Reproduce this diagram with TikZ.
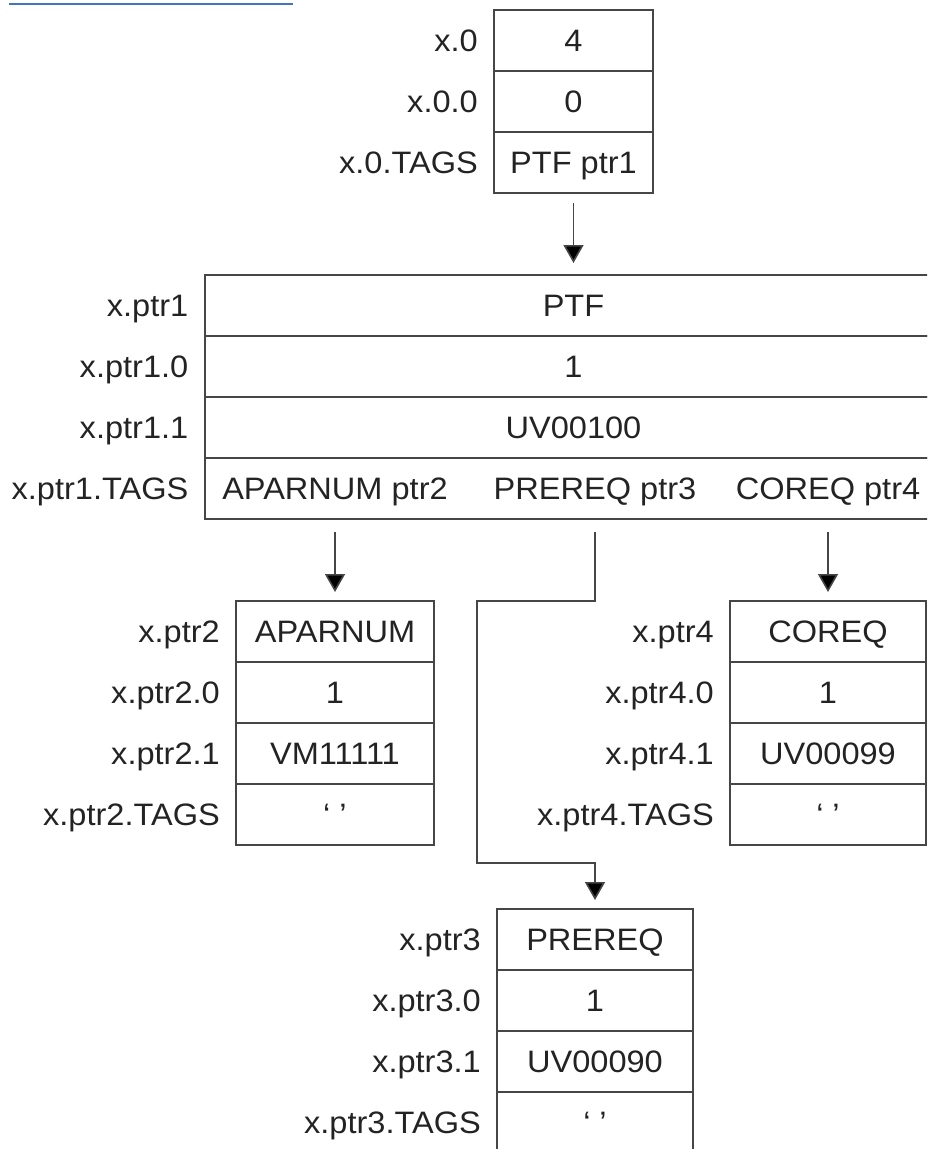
\documentclass[tikz,border=0pt]{standalone}
\usepackage{fontspec}
\setmainfont[FakeStretch=1.05]{Liberation Sans}
\usetikzlibrary{positioning,arrows.meta}
\definecolor{inkgray}{RGB}{35,35,35}
\definecolor{rulegray}{RGB}{70,70,70}
\definecolor{linkblue}{RGB}{68,114,196}
\tikzset{
  cell/.style={draw=rulegray, line width=2pt, inner sep=0pt, outer sep=0pt,
    minimum height=61pt, text height=22pt, text depth=0pt},
  lbl/.style={inner sep=0pt, text height=22pt, text depth=0pt},
  ptr/.style={-{Triangle[length=18pt,width=20pt,fill=black]}, draw=rulegray, line width=1.6pt},
}
\begin{document}
\begin{tikzpicture}[x=1pt, y=1pt, font=\fontsize{31}{38}\selectfont, text=inkgray]
  \useasboundingbox (0,0) rectangle (927,-1149);
  \clip (0,0) rectangle (927,-1149);
  \draw[linkblue, line width=2pt] (9,-4) -- (293,-4);

  % record x.0
  \node[cell, minimum width=159pt] (t0) at (573.5,-40.5) {4};
  \node[cell, minimum width=159pt, below=0pt of t0] (t1) {0};
  \node[cell, minimum width=159pt, below=0pt of t1] (t2) {PTF ptr1};
  \node[lbl, left=16pt of t0] (lt0) {x.0};
  \node[lbl, left=16pt of t1] (lt1) {x.0.0};
  \node[lbl, left=16pt of t2] (lt2) {x.0.TAGS};

  % record x.ptr1
  \node[cell, minimum width=738pt] (p0) at (573.5,-305.5) {PTF};
  \node[cell, minimum width=738pt, below=0pt of p0] (p1) {1};
  \node[cell, minimum width=738pt, below=0pt of p1] (p2) {UV00100};
  \node[cell, minimum width=738pt, below=0pt of p2] (p3) {};
  \node[lbl, left=16pt of p0] (lp0) {x.ptr1};
  \node[lbl, left=16pt of p1] (lp1) {x.ptr1.0};
  \node[lbl, left=16pt of p2] (lp2) {x.ptr1.1};
  \node[lbl, left=16pt of p3] (lp3) {x.ptr1.TAGS};

  % record x.ptr2
  \node[cell, minimum width=198pt] (q0) at (335,-631.5) {APARNUM};
  \node[cell, minimum width=198pt, below=0pt of q0] (q1) {1};
  \node[cell, minimum width=198pt, below=0pt of q1] (q2) {VM11111};
  \node[cell, minimum width=198pt, below=0pt of q2] (q3) {‘ ’};
  \node[lbl, left=16pt of q0] (lq0) {x.ptr2};
  \node[lbl, left=16pt of q1] (lq1) {x.ptr2.0};
  \node[lbl, left=16pt of q2] (lq2) {x.ptr2.1};
  \node[lbl, left=16pt of q3] (lq3) {x.ptr2.TAGS};

  % record x.ptr4
  \node[cell, minimum width=196pt] (s0) at (828,-631.5) {COREQ};
  \node[cell, minimum width=196pt, below=0pt of s0] (s1) {1};
  \node[cell, minimum width=196pt, below=0pt of s1] (s2) {UV00099};
  \node[cell, minimum width=196pt, below=0pt of s2] (s3) {‘ ’};
  \node[lbl, left=16pt of s0] (ls0) {x.ptr4};
  \node[lbl, left=16pt of s1] (ls1) {x.ptr4.0};
  \node[lbl, left=16pt of s2] (ls2) {x.ptr4.1};
  \node[lbl, left=16pt of s3] (ls3) {x.ptr4.TAGS};

  % record x.ptr3
  \node[cell, minimum width=196pt] (r0) at (595,-939.5) {PREREQ};
  \node[cell, minimum width=196pt, below=0pt of r0] (r1) {1};
  \node[cell, minimum width=196pt, below=0pt of r1] (r2) {UV00090};
  \node[cell, minimum width=196pt, below=0pt of r2] (r3) {‘ ’};
  \node[lbl, left=16pt of r0] (lr0) {x.ptr3};
  \node[lbl, left=16pt of r1] (lr1) {x.ptr3.0};
  \node[lbl, left=16pt of r2] (lr2) {x.ptr3.1};
  \node[lbl, left=16pt of r3] (lr3) {x.ptr3.TAGS};

  % tags of x.ptr1
  \node[lbl] (tg2) at (p3 -| q0) {APARNUM ptr2};
  \node[lbl] (tg3) at (p3 -| r0) {PREREQ ptr3};
  \node[lbl] (tg4) at (p3 -| s0) {COREQ ptr4};

  % pointers
  \coordinate (jog) at (477,-601);
  \coordinate (jogb) at (477,-863);
  \draw[ptr, shorten <=10pt, shorten >=12pt] (t2) -- (p0);
  \draw[ptr, shorten <=13pt, shorten >=9pt] (p3.south -| q0) -- (q0);
  \draw[ptr, shorten <=13pt, shorten >=9pt] (p3.south -| s0) -- (s0);
  \draw[ptr, shorten <=13pt, shorten >=9pt] (p3.south -| r0) |- (jog) -- (jogb) -| (r0);
\end{tikzpicture}
\end{document}
